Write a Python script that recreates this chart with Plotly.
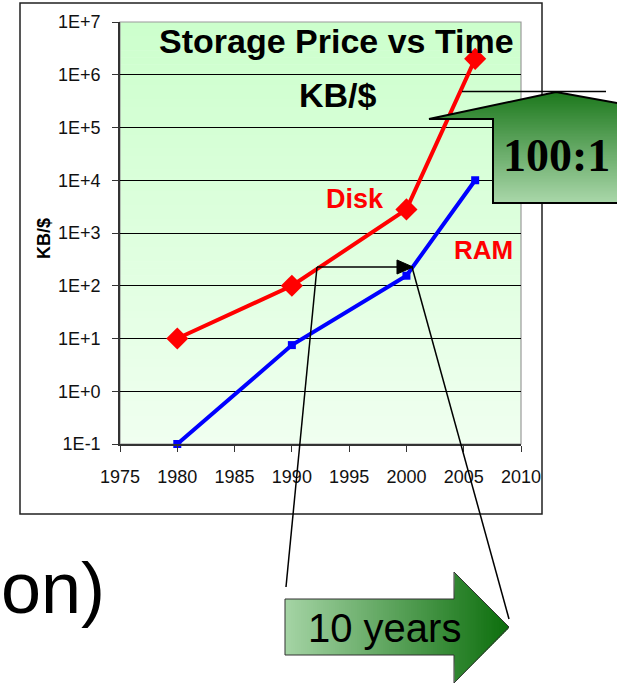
import plotly.graph_objects as go

# ---------------- data ----------------
years = [1980, 1990, 2000, 2006]
disk_kb_per_dollar = [10, 100, 2800, 2000000]
ram_kb_per_dollar = [0.1, 7.5, 155, 10000]

y_tick_values = [0.1, 1, 10, 100, 1e3, 1e4, 1e5, 1e6, 1e7]
y_tick_labels = ["1E-1", "1E+0", "1E+1", "1E+2", "1E+3", "1E+4", "1E+5", "1E+6", "1E+7"]
x_tick_values = [1975, 1980, 1985, 1990, 1995, 2000, 2005, 2010]
x_tick_labels = ["1975", "1980", "1985", "1990", "1995", "2000", "2005", "2010"]

# ---------------- geometry helpers ----------------
W, H = 617, 685
L, R, T, B = 120, 521, 22, 444


def px(x):
    return (x - L) / (R - L)


def py(y):
    return (B - y) / (B - T)


def lerp(c1, c2, t):
    return "rgb(%d,%d,%d)" % tuple(round(a + (b - a) * t) for a, b in zip(c1, c2))


def path(points, close=True):
    s = "M " + " L ".join("%.5f,%.5f" % (px(x), py(y)) for x, y in points)
    return s + (" Z" if close else "")


shapes = []

# plot-area gradient background
n = 60
top_c, bot_c = (204, 255, 204), (240, 255, 240)
for i in range(n):
    y0 = T + (B - T) * i / n
    y1 = T + (B - T) * (i + 1) / n + 0.6
    shapes.append(dict(type="rect", xref="paper", yref="paper",
                       x0=0, x1=1, y0=py(min(y1, B)), y1=py(y0),
                       fillcolor=lerp(top_c, bot_c, (i + 0.5) / n),
                       line_width=0, layer="below"))
# plot-area border (gray)
shapes.append(dict(type="rect", xref="paper", yref="paper", x0=0, x1=1, y0=0, y1=1,
                   line=dict(color="#9a9a9a", width=1.2), layer="below"))
# outer chart border
shapes.append(dict(type="rect", xref="paper", yref="paper",
                   x0=px(20), x1=px(542), y0=py(514), y1=py(3),
                   line=dict(color="#202020", width=1.5), layer="below"))

# ---- "100:1" callout (up arrow, gradient) ----
def cl_left(y):
    return 556 - (y - 92) * (127 / 27) if y < 119 else 493


def cl_right(y):
    return min(625, 556 + (y - 92) * 61 / 11)


c_top, c_bot = (28, 120, 28), (170, 215, 170)
ys = [92 + k * 1.5 for k in range(int((203 - 92) / 1.5) + 1)] + [203]
ys = sorted(set(ys + [119, 103.5]))
for a, b in zip(ys[:-1], ys[1:]):
    bb = min(b + 0.5, 203)
    if a < 119 < bb:
        pts = [(cl_left(a), a), (cl_right(a), a), (cl_right(bb), bb), (493, bb)]
    else:
        pts = [(cl_left(a), a), (cl_right(a), a), (cl_right(bb), bb), (cl_left(bb), bb)]
    shapes.append(dict(type="path", xref="paper", yref="paper", path=path(pts),
                       fillcolor=lerp(c_top, c_bot, ((a + b) / 2 - 92) / 111),
                       line_width=0, layer="above"))
shapes.append(dict(type="path", xref="paper", yref="paper",
                   path=path([(625, 104.4), (556, 92), (429, 119), (493, 119), (493, 203), (625, 203)], close=False),
                   line=dict(color="black", width=2), layer="above"))
# horizontal marker line at disk 2006 level
shapes.append(dict(type="line", xref="paper", yref="paper",
                   x0=px(462), x1=px(606), y0=py(91.5), y1=py(91.5),
                   line=dict(color="black", width=1.5), layer="above"))

# ---- "10 years" arrow (right arrow, gradient) ----
def ar_top(x):
    return 599 if x <= 454 else 572 + (x - 454)


def ar_bot(x):
    return 655 if x <= 454 else 683 - (x - 454)


a_left, a_right = (165, 212, 165), (12, 110, 12)
xs = [285 + k * 2 for k in range(int((509 - 285) / 2) + 1)] + [454, 509]
xs = sorted(set(xs))
for a, b in zip(xs[:-1], xs[1:]):
    bb = min(b + 0.6, 509)
    if a < 454 < bb:
        pts = [(a, ar_top(a)), (454, ar_top(a)), (454, 572), (bb, ar_top(bb)),
               (bb, ar_bot(bb)), (454, 683), (454, ar_bot(a)), (a, ar_bot(a))]
    else:
        pts = [(a, ar_top(a)), (bb, ar_top(bb)), (bb, ar_bot(bb)), (a, ar_bot(a))]
    shapes.append(dict(type="path", xref="paper", yref="paper", path=path(pts),
                       fillcolor=lerp(a_left, a_right, ((a + b) / 2 - 285) / 224),
                       line_width=0, layer="above"))
shapes.append(dict(type="path", xref="paper", yref="paper",
                   path=path([(285, 599), (454, 599), (454, 572), (509, 627), (454, 683), (454, 655), (285, 655)]),
                   line=dict(color="#333333", width=1), layer="above"))

# ---- "10 years" bracket lines and arrow ----
for (x0, y0, x1, y1) in [(317, 267, 286, 587), (412, 267, 509, 619), (317, 267, 400, 267)]:
    shapes.append(dict(type="line", xref="paper", yref="paper",
                       x0=px(x0), y0=py(y0), x1=px(x1), y1=py(y1),
                       line=dict(color="black", width=1.5), layer="above"))
shapes.append(dict(type="path", xref="paper", yref="paper",
                   path=path([(397, 260), (413, 267), (397, 274)]),
                   fillcolor="black", line=dict(color="black", width=1), layer="above"))

# ---------------- traces ----------------
fig = go.Figure()
fig.add_trace(go.Scatter(x=years, y=disk_kb_per_dollar, mode="lines+markers", name="Disk",
                         line=dict(color="#ff0000", width=4),
                         marker=dict(symbol="diamond", size=17, color="#ff0000"),
                         cliponaxis=False))
fig.add_trace(go.Scatter(x=years, y=ram_kb_per_dollar, mode="lines+markers", name="RAM",
                         line=dict(color="#0000ff", width=4),
                         marker=dict(symbol="square", size=8, color="#0000ff"),
                         cliponaxis=False))

SANS = "Liberation Sans, Arial, sans-serif"


def ann(text, x, y, size, color="black", bold=False, family=SANS, xanchor="center", angle=0):
    return dict(text=("<b>%s</b>" % text) if bold else text, x=px(x), y=py(y),
                xref="paper", yref="paper", xanchor=xanchor, yanchor="middle",
                showarrow=False, textangle=angle,
                font=dict(size=size, color=color, family=family))


annotations = [
    ann("Storage Price vs Time", 336, 41, 34, bold=True),
    ann("KB/$", 338, 95, 34, bold=True),
    ann("Disk", 355, 199, 27, color="#ff0000", bold=True),
    ann("RAM", 483, 250, 26, color="#ff0000", bold=True),
    ann("KB/$", 44, 239, 18, bold=True, angle=-90),
    ann("100:1", 556, 155, 46, bold=True, family="Liberation Serif, Times New Roman, serif"),
    ann("10 years", 384, 628, 40),
    ann("on)", 107, 588, 72, xanchor="right"),
]

fig.update_layout(
    width=W, height=H,
    margin=dict(l=L, r=W - R, t=T, b=H - B, pad=0),
    paper_bgcolor="white",
    plot_bgcolor="rgba(0,0,0,0)",
    showlegend=False,
    shapes=shapes,
    annotations=annotations,
    font=dict(family=SANS, color="#111111"),
)
fig.update_xaxes(range=[1975, 2010], tickvals=x_tick_values, ticktext=x_tick_labels,
                 showgrid=False, zeroline=False, showline=True, linecolor="#333333", linewidth=1.5,
                 ticks="outside", ticklen=6, tickcolor="#333333", tickwidth=1.2,
                 tickfont=dict(size=18, family=SANS, color="#111111"), ticklabelstandoff=10)
fig.update_yaxes(type="log", range=[-1, 7], tickvals=y_tick_values, ticktext=y_tick_labels,
                 showgrid=True, gridcolor="black", gridwidth=1, zeroline=False,
                 showline=True, linecolor="#333333", linewidth=1.5,
                 ticks="outside", ticklen=6, tickcolor="#333333", tickwidth=1.2,
                 tickfont=dict(size=18, family=SANS, color="#111111"), ticklabelstandoff=8)

fig.write_html("out.html", config={"displayModeBar": False},
               post_script="document.body.style.margin='0px';document.body.style.overflow='hidden';")
